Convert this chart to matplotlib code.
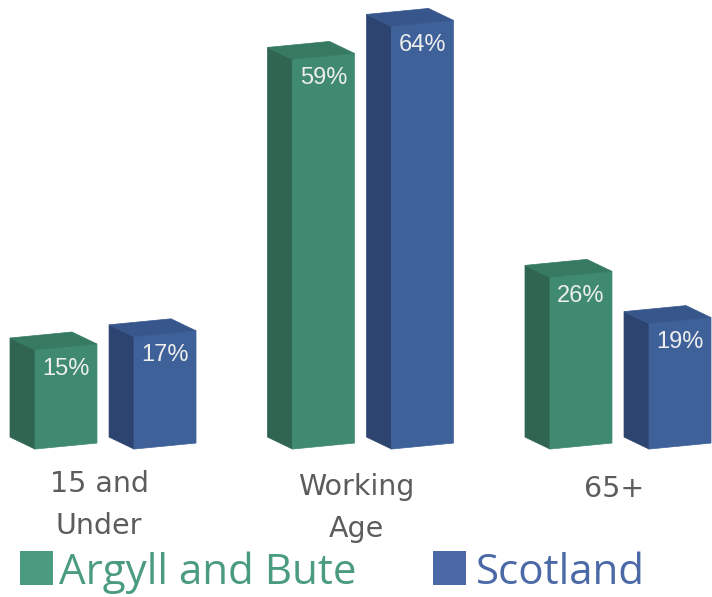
import matplotlib
matplotlib.use("Agg")
import matplotlib.pyplot as plt
from matplotlib.patches import Polygon

# Population share by age band
categories = ["15 and\nUnder", "Working\nAge", "65+"]
series_names = ["Argyll and Bute", "Scotland"]
argyll_bute = [15, 59, 26]
scotland = [17, 64, 19]
value_labels_argyll = ["15%", "59%", "26%"]
value_labels_scotland = ["17%", "64%", "19%"]

# face colours: front, side, top
GREEN = ("#3F8A70", "#2F6551", "#367A62")
BLUE = ("#3F6199", "#2E4470", "#37568C")
LEGEND_GREEN = "#4A9B80"
LEGEND_BLUE = "#4A69A6"

W_PX, H_PX = 712, 597
fig = plt.figure(figsize=(W_PX / 100, H_PX / 100), dpi=100)
ax = fig.add_axes([0, 0, 1, 1])
ax.set_xlim(-0.4505, 2.3146)
ax.set_ylim(-22.4, 68.0)
ax.axis("off")

# pixel -> data unit conversions for the pseudo-3D extrusion
px_x = (2.3146 + 0.4505) / W_PX
px_y = (68.0 + 22.4) / H_PX
DX = -25 * px_x          # depth offset to the left
DY = 12 * px_y           # depth offset upward
TILT = 6 * px_y          # front face rises slightly to the right
BAR_W = 62 * px_x
OFFSETS = [-0.3146, 0.070]


def box(x0, v, colors):
    front, side, top = colors
    ax.add_patch(Polygon([(x0, 0), (x0, v), (x0 + DX, v + DY), (x0 + DX, DY)],
                         closed=True, facecolor=side, edgecolor=side, lw=0.5))
    ax.add_patch(Polygon([(x0, 0), (x0 + BAR_W, TILT), (x0 + BAR_W, v + TILT), (x0, v)],
                         closed=True, facecolor=front, edgecolor=front, lw=0.5))
    ax.add_patch(Polygon([(x0, v), (x0 + BAR_W, v + TILT),
                          (x0 + BAR_W + DX, v + TILT + DY), (x0 + DX, v + DY)],
                         closed=True, facecolor=top, edgecolor=top, lw=0.5))


for i, cat in enumerate(categories):
    for j, (vals, labs, cols) in enumerate(((argyll_bute, value_labels_argyll, GREEN),
                                            (scotland, value_labels_scotland, BLUE))):
        x0 = i + OFFSETS[j]
        v = vals[i]
        box(x0, v, cols)
        ax.text(x0 + BAR_W / 2, v + TILT / 2 - 1.6, labs[i], ha="center", va="top",
                fontsize=17, color="#EEEEEE", family="Liberation Sans")
    # category label, one line at a time, baselines drifting down slightly to the right
    base = -(492 + 2.5 * i - 449) * px_y
    for k, line in enumerate(cat.split("\n")):
        ax.text(i - 17 * px_x, base - k * 42 * px_y, line, ha="center",
                va="baseline", fontsize=20.5, color="#5C5C5C", family="DejaVu Sans")

# legend
for (x_px, tx_px, col, name) in ((20, 59, LEGEND_GREEN, series_names[0]),
                                 (433, 476, LEGEND_BLUE, series_names[1])):
    fig.patches.append(plt.Rectangle((x_px / W_PX, (H_PX - 585) / H_PX),
                                     33 / W_PX, 34 / H_PX,
                                     transform=fig.transFigure,
                                     facecolor=col, edgecolor="none"))
    fig.text(tx_px / W_PX, (H_PX - 584) / H_PX, name, ha="left",
             va="baseline", fontsize=30.3, color=col, family="Open Sans")

fig.savefig("out.png", dpi=100, facecolor="white")
